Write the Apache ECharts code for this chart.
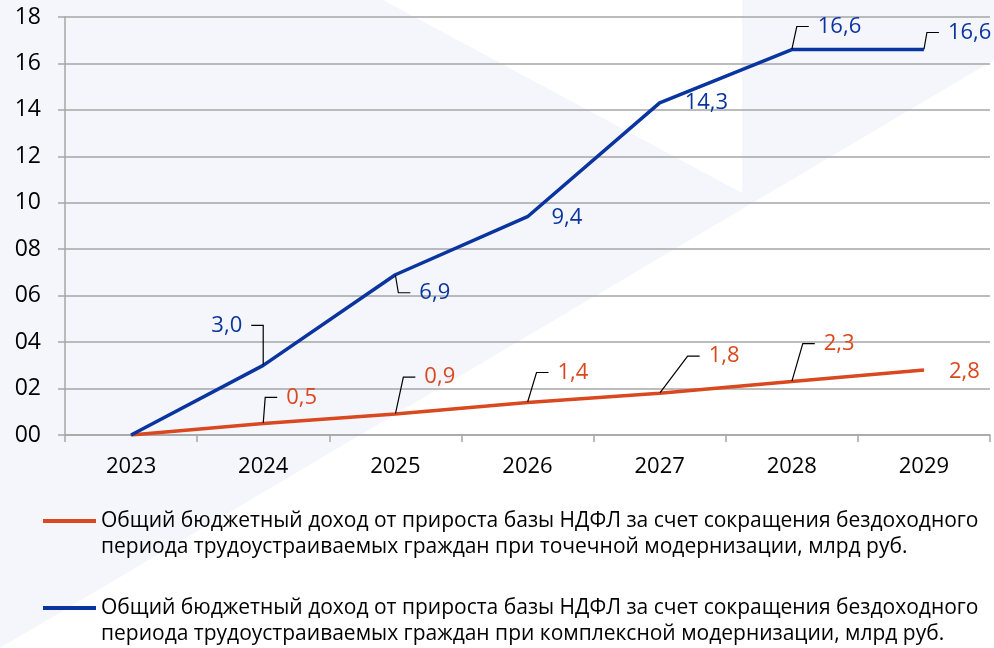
<!DOCTYPE html>
<html>
<head>
<meta charset="utf-8">
<script src="https://cdn.jsdelivr.net/npm/echarts@6/dist/echarts.min.js"></script>
<style>
  html, body { margin: 0; padding: 0; background: #ffffff; }
  #chart { width: 994px; height: 648px; }
</style>
</head>
<body>
<div id="chart"></div>
<script>
const years = ['2023', '2024', '2025', '2026', '2027', '2028', '2029']
const pointValues = [0, 0.5, 0.9, 1.4, 1.8, 2.3, 2.8]
const complexValues = [0, 3.0, 6.9, 9.4, 14.3, 16.6, 16.6]
const seriesNames = [
  'Общий бюджетный доход от прироста базы НДФЛ за счет сокращения бездоходного\nпериода трудоустраиваемых граждан при точечной модернизации, млрд руб.',
  'Общий бюджетный доход от прироста базы НДФЛ за счет сокращения бездоходного\nпериода трудоустраиваемых граждан при комплексной модернизации, млрд руб.'
]

// label placement relative to the point: [text edge dx (negative = label on the left), centre dy, leader line]
const pointLabelPos = [null, [23, -26, true], [29, -37, true], [30, -30, true], [49, -37, true], [32, -38, true], [25, 2, false]]
const complexLabelPos = [null, [-21, -40, true], [24, 18, true], [24, 1, false], [25, 0, false], [26, -23, true], [24, -17, true]]

const FONT = '"Open Sans", "Noto Sans", sans-serif'
const GAP = 9 // space between the leader line and the number

function buildData(values, pos) {
  return values.map((v, i) => {
    if (!pos[i]) {
      return { value: v, label: { show: false }, labelLine: { show: false } }
    }
    return { value: v, labelLine: { show: pos[i][2] } }
  })
}

function makeSeries(name, values, pos, color) {
  return {
    name: name,
    type: 'line',
    data: buildData(values, pos),
    symbol: 'circle',
    symbolSize: 1,
    itemStyle: { color: color },
    lineStyle: { color: color, width: 3.5 },
    label: {
      show: true,
      position: 'inside',
      color: color,
      fontFamily: FONT,
      fontSize: 22,
      lineHeight: 14,
      formatter: p => {
        const txt = p.value.toFixed(1).replace('.', ',')
        const d = pos[p.dataIndex]
        // wide spacer on the far side keeps the leader attached to the near side
        if (d && d[0] < 0) return '{w| }{v|' + txt + '}{g| }'
        return '{g| }{v|' + txt + '}{w| }'
      },
      rich: {
        v: { color: color, fontSize: 22, fontFamily: FONT, lineHeight: 14 },
        g: { width: GAP, fontSize: 22, fontFamily: FONT, lineHeight: 14 },
        w: { width: 50, fontSize: 22, fontFamily: FONT, lineHeight: 14 }
      }
    },
    labelLine: {
      show: true,
      length2: 12,
      minTurnAngle: 0,
      lineStyle: { color: '#000', width: 1.2 }
    },
    labelLayout: p => {
      const d = pos[p.dataIndex]
      if (!d) return {}
      const cx = p.rect.x + p.rect.width / 2
      const cy = p.rect.y + p.rect.height / 2
      if (d[0] < 0) {
        return { x: cx + d[0] + GAP, y: cy + d[1], align: 'right', verticalAlign: 'middle' }
      }
      return { x: cx + d[0] - GAP, y: cy + d[1], align: 'left', verticalAlign: 'middle' }
    }
  }
}

let chart = echarts.init(document.getElementById('chart'))
const option = {
  backgroundColor: '#ffffff',
  animation: false,
  graphic: [
    {
      type: 'polygon',
      z: -10,
      silent: true,
      shape: { points: [[0, 0], [994, 0], [994, 60], [0, 648]] },
      style: { fill: '#f4f6fc' }
    },
    {
      type: 'polygon',
      z: -9,
      silent: true,
      shape: { points: [[383, 0], [742, 0], [742, 193]] },
      style: { fill: '#ffffff' }
    }
  ],
  grid: { left: 65, right: 4, top: 17, bottom: 213 },
  legend: {
    orient: 'vertical',
    left: 43,
    top: 482,
    padding: 0,
    itemGap: 9,
    itemWidth: 53,
    itemHeight: 4,
    icon: 'rect',
    formatter: name => '\n' + name,
    textStyle: {
      color: '#000',
      fontFamily: FONT,
      fontSize: 21,
      lineHeight: 26
    }
  },
  xAxis: {
    type: 'category',
    data: years,
    boundaryGap: true,
    axisLine: { lineStyle: { color: '#a6a6a6', width: 1.5 } },
    axisTick: { show: true, length: 7, lineStyle: { color: '#a6a6a6', width: 1.5 } },
    axisLabel: { color: '#000', fontFamily: FONT, fontSize: 22, margin: 21 }
  },
  yAxis: {
    type: 'value',
    min: 0,
    max: 18,
    interval: 2,
    axisLine: { show: true, lineStyle: { color: '#a6a6a6', width: 1.5 } },
    axisTick: { show: true, length: 7, lineStyle: { color: '#a6a6a6', width: 1.5 } },
    splitLine: { lineStyle: { color: '#a6a6a6', width: 1.5 } },
    axisLabel: {
      color: '#000',
      fontFamily: FONT,
      fontSize: 23,
      margin: 24,
      formatter: v => String(v).padStart(2, '0')
    }
  },
  series: [
    makeSeries(seriesNames[0], pointValues, pointLabelPos, '#d9481f'),
    makeSeries(seriesNames[1], complexValues, complexLabelPos, '#0a35a0')
  ]
}
chart.setOption(option)
</script>
</body>
</html>
